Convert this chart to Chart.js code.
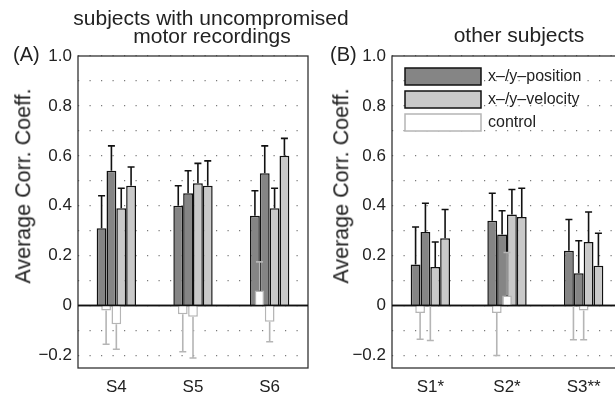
<!DOCTYPE html>
<html>
<head>
<meta charset="utf-8">
<script src="https://cdn.jsdelivr.net/npm/chart.js@4.4.0/dist/chart.umd.min.js"></script>
<style>
  body { margin: 0; width: 615px; height: 399px; overflow: hidden; background: #fff; position: relative;
         font-family: "Liberation Sans", Arial, sans-serif; color: #222; }
  canvas { position: absolute; top: 0; }
  .left { left: 0; }
  .right { left: 310px; }
  .txt { position: absolute; white-space: nowrap; }
  .title { font-size: 21px; line-height: 21px; transform: translateX(-50%); }
  .panel { font-size: 20px; line-height: 20px; }
  .ylab { font-size: 21.5px; line-height: 21.5px; transform: translate(-50%, -50%) rotate(-90deg); }
</style>
</head>
<body>
<canvas id="chartA" class="left" width="320" height="399"></canvas>
<canvas id="ctrlA" class="left" width="320" height="399"></canvas>
<canvas id="chartB" class="right" width="320" height="399"></canvas>
<canvas id="ctrlB" class="right" width="320" height="399"></canvas>

<div class="txt title" style="left:211px; top:7px">subjects with uncompromised</div>
<div class="txt title" style="left:212px; top:25px">motor recordings</div>
<div class="txt title" style="left:519px; top:24px">other subjects</div>
<div class="txt panel" style="left:13px; top:44px">(A)</div>
<div class="txt panel" style="left:330px; top:44px">(B)</div>
<div class="txt ylab" style="left:24px; top:186px">Average Corr. Coeff.</div>
<div class="txt ylab" style="left:342px; top:186px">Average Corr. Coeff.</div>

<script>
// subjects
const subjectsA = ['S4', 'S5', 'S6'];
const subjectsB = ['S1*', 'S2*', 'S3**'];

// y ticks (dotted grid every 0.1, labels every 0.2)
const yTickValues = [-0.2, -0.1, 0, 0.1, 0.2, 0.3, 0.4, 0.5, 0.6, 0.7, 0.8, 0.9, 1.0];
const yTickLabels = ['\u22120.2', '', '0', '', '0.2', '', '0.4', '', '0.6', '', '0.8', '', '1.0'];

// panel A: x/y position, x/y velocity, two controls (mean and error)
const posXA = [0.31, 0.40, 0.36];
const posXErrA = [0.13, 0.08, 0.10];
const posYA = [0.54, 0.45, 0.53];
const posYErrA = [0.10, 0.09, 0.11];
const velXA = [0.39, 0.49, 0.39];
const velXErrA = [0.08, 0.08, 0.08];
const velYA = [0.48, 0.48, 0.60];
const velYErrA = [0.075, 0.10, 0.07];
const ctrl1A = [-0.02, -0.035, 0.06];
const ctrl1ErrA = [0.135, 0.15, 0.115];
const ctrl2A = [-0.075, -0.045, -0.065];
const ctrl2ErrA = [0.10, 0.165, 0.08];

// panel B
const posXB = [0.165, 0.34, 0.22];
const posXErrB = [0.15, 0.11, 0.125];
const posYB = [0.295, 0.285, 0.13];
const posYErrB = [0.115, 0.095, 0.13];
const velXB = [0.155, 0.365, 0.255];
const velXErrB = [0.10, 0.10, 0.12];
const velYB = [0.27, 0.355, 0.16];
const velYErrB = [0.115, 0.115, 0.13];
const ctrl1B = [-0.03, -0.03, -0.004];
const ctrl1ErrB = [0.105, 0.17, 0.133];
const ctrl2B = [-0.004, 0.04, -0.02];
const ctrl2ErrB = [0.136, 0.173, 0.117];

const legendLabels = ['x\u2013/y\u2013position', 'x\u2013/y\u2013velocity', 'control'];

const DARK = '#858585';
const LIGHT = '#c9c9c9';
const CTRL = '#b5b5b5';
const FONT = '"Liberation Sans", Arial, sans-serif';
const tickFont = {family: FONT, size: 17};
const legendStyles = [
  {fill: DARK, stroke: '#111'},
  {fill: LIGHT, stroke: '#111'},
  {fill: '#fff', stroke: CTRL}
];

// zero line, error bars, box around the axes and the legend
const extras = {
  id: 'extras',
  afterDatasetsDraw(chart, args, opts) {
    const {ctx, chartArea: a, scales: {y}} = chart;
    ctx.save();
    const y0 = y.getPixelForValue(0);
    ctx.strokeStyle = '#111';
    ctx.lineWidth = 1.5;
    ctx.beginPath();
    ctx.moveTo(a.left, y0);
    ctx.lineTo(a.right, y0);
    ctx.stroke();

    chart.data.datasets.forEach((ds, i) => {
      if (!ds.errors) return;
      const meta = chart.getDatasetMeta(i);
      ctx.strokeStyle = ds.errorColor;
      ctx.lineWidth = 1.6;
      meta.data.forEach((bar, j) => {
        const v = ds.data[j];
        const end = y.getPixelForValue(v + (v < 0 ? -1 : 1) * ds.errors[j]);
        ctx.beginPath();
        ctx.moveTo(bar.x, bar.y);
        ctx.lineTo(bar.x, end);
        ctx.moveTo(bar.x - 3.5, end);
        ctx.lineTo(bar.x + 3.5, end);
        ctx.stroke();
      });
    });

    if (opts.frame) {
      ctx.strokeStyle = '#333';
      ctx.lineWidth = 1.3;
      ctx.strokeRect(a.left, a.top, a.right - a.left, a.bottom - a.top);
    }
    ctx.restore();
  },
  afterDraw(chart, args, opts) {
    if (!opts.legend) return;
    const {ctx, chartArea: a} = chart;
    ctx.save();
    ctx.font = '16px ' + FONT;
    ctx.textBaseline = 'middle';
    let top = a.top + 12;
    legendLabels.forEach((text, k) => {
      ctx.fillStyle = legendStyles[k].fill;
      ctx.fillRect(a.left + 13, top, 76, 17);
      ctx.strokeStyle = legendStyles[k].stroke;
      ctx.lineWidth = 1.5;
      ctx.strokeRect(a.left + 13, top, 76, 17);
      ctx.fillStyle = '#222';
      ctx.fillText(text, a.left + 96, top + 9);
      top += 23;
    });
    ctx.restore();
  }
};

function barSet(label, data, errors, fill, stroke, catPct, barPct) {
  return {
    label, data, errors,
    errorColor: stroke,
    backgroundColor: fill, borderColor: stroke, borderWidth: 1.5,
    categoryPercentage: catPct, barPercentage: barPct
  };
}

function baseOptions(yWidth, padRight, visible, extraOpts) {
  return {
    responsive: false,
    animation: false,
    layout: {padding: {top: 56, right: padRight, left: 0, bottom: 0}},
    plugins: {tooltip: {enabled: false}, legend: {display: false}, extras: extraOpts},
    scales: {
      x: {
        type: 'category', offset: true,
        grid: {display: false, drawTicks: false}, border: {display: false},
        ticks: {font: tickFont, color: visible ? '#222' : 'rgba(0,0,0,0)', padding: 9},
        afterFit(scale) { scale.height = 31; }
      },
      y: {
        min: -0.25, max: 1.0,
        afterBuildTicks(scale) { scale.ticks = yTickValues.map(v => ({value: v})); },
        ticks: {
          autoSkip: false, font: tickFont, color: visible ? '#222' : 'rgba(0,0,0,0)', padding: 6,
          callback: (v, i) => yTickLabels[i]
        },
        grid: {display: visible, color: '#7a7a7a', lineWidth: 1.2, drawTicks: false},
        border: {display: false, dash: [1.2, 10.3]},
        afterFit(scale) { scale.width = yWidth; }
      }
    }
  };
}

function makePanel(mainId, ctrlId, labels, s, yWidth, padRight, legend) {
  // position and velocity bars
  new Chart(document.getElementById(mainId), {
    type: 'bar',
    data: {
      labels,
      datasets: [
        barSet('x-position', s.posX, s.posXErr, DARK, '#111', 0.513, 1.0),
        barSet('y-position', s.posY, s.posYErr, DARK, '#111', 0.513, 1.0),
        barSet('x-velocity', s.velX, s.velXErr, LIGHT, '#111', 0.513, 1.0),
        barSet('y-velocity', s.velY, s.velYErr, LIGHT, '#111', 0.513, 1.0)
      ]
    },
    options: baseOptions(yWidth, padRight, true, {frame: true, legend}),
    plugins: [extras]
  });
  // control bars on top, in the first two of three slots
  new Chart(document.getElementById(ctrlId), {
    type: 'bar',
    data: {
      labels,
      datasets: [
        barSet('control 1', s.c1, s.c1Err, '#fff', CTRL, 0.4, 0.95),
        barSet('control 2', s.c2, s.c2Err, '#fff', CTRL, 0.4, 0.95),
        barSet('', labels.map(() => null), null, '#fff', CTRL, 0.4, 0.95)
      ]
    },
    options: baseOptions(yWidth, padRight, false, {frame: false, legend: false}),
    plugins: [extras]
  });
}

makePanel('chartA', 'ctrlA', subjectsA, {
  posX: posXA, posXErr: posXErrA, posY: posYA, posYErr: posYErrA,
  velX: velXA, velXErr: velXErrA, velY: velYA, velYErr: velYErrA,
  c1: ctrl1A, c1Err: ctrl1ErrA, c2: ctrl2A, c2Err: ctrl2ErrA
}, 78, 12, false);

makePanel('chartB', 'ctrlB', subjectsB, {
  posX: posXB, posXErr: posXErrB, posY: posYB, posYErr: posYErrB,
  velX: velXB, velXErr: velXErrB, velY: velYB, velYErr: velYErrB,
  c1: ctrl1B, c1Err: ctrl1ErrB, c2: ctrl2B, c2Err: ctrl2ErrB
}, 82, 8, true);
</script>
</body>
</html>
